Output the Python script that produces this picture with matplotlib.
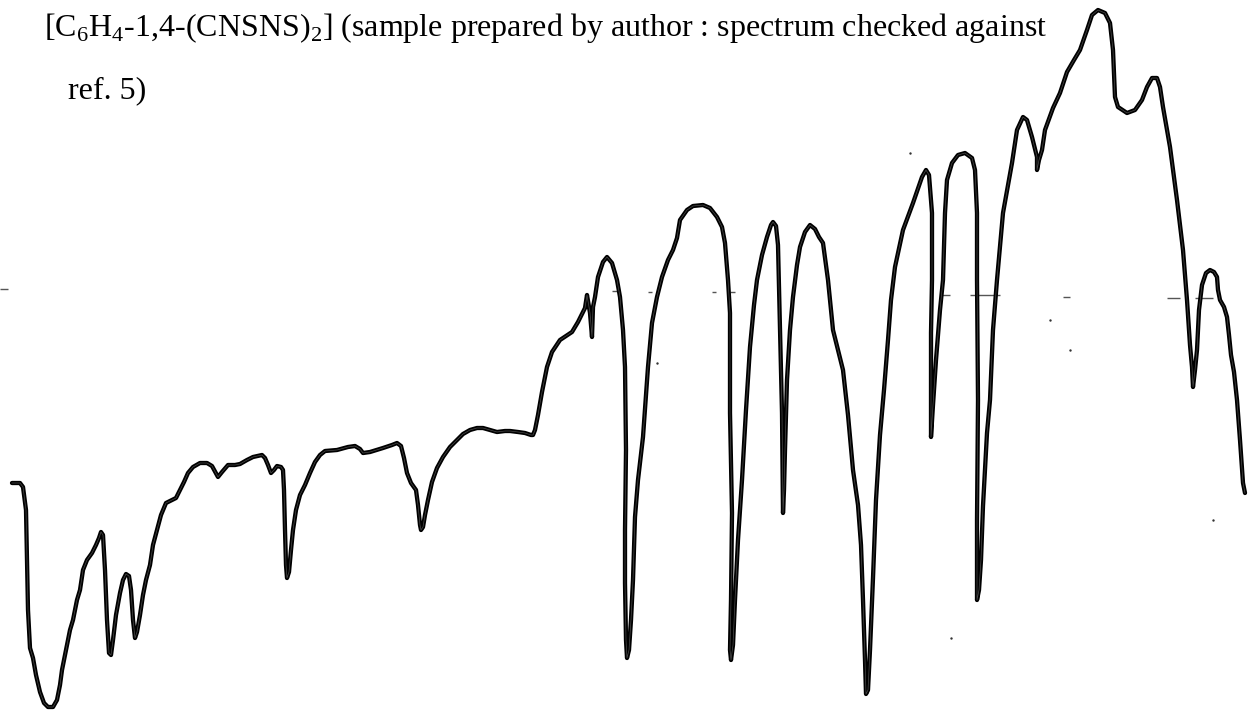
import numpy as np
import matplotlib.pyplot as plt

plt.rcParams['font.family'] = ['Liberation Serif', 'DejaVu Serif']
plt.rcParams['mathtext.fontset'] = 'custom'
plt.rcParams['mathtext.rm'] = 'Liberation Serif'

# trace read along the chart paper (position across, pen deflection down)
wave_pos = [12, 20, 23, 26, 27, 28, 30, 33, 36, 40,
            44, 48, 53, 57, 60, 62, 65, 68, 70, 73,
            77, 80, 83, 87, 92, 96, 99, 101, 103, 105,
            107, 109, 111, 113, 116, 120, 123, 126, 129, 131,
            133, 135, 137, 140, 143, 146, 150, 153, 157, 161,
            166, 172, 176, 180, 184, 188, 193, 200, 207, 212,
            218, 222, 228, 235, 240, 247, 253, 262, 265, 268,
            271, 274, 277, 281, 283, 284, 285, 286, 287, 289,
            291, 293, 296, 300, 305, 310, 315, 320, 325, 337,
            348, 355, 360, 363, 370, 383, 392, 397, 401, 404,
            407, 411, 416, 418, 420, 421, 423, 425, 428, 432,
            437, 443, 450, 457, 463, 470, 477, 483, 490, 497,
            505, 510, 518, 525, 531, 533, 535, 538, 542, 547,
            552, 560, 572, 578, 585, 587, 590, 592, 593, 595,
            598, 603, 607, 612, 617, 620, 623, 625, 626, 625,
            625, 626, 627, 629, 631, 633, 635, 638, 643, 648,
            652, 657, 662, 668, 673, 677, 680, 687, 693, 703,
            710, 717, 722, 725, 728, 730, 730, 732, 731, 730,
            731, 733, 735, 738, 742, 746, 750, 754, 757, 762,
            767, 771, 773, 776, 778, 780, 782, 783, 784, 785,
            787, 790, 793, 797, 800, 805, 810, 815, 819, 823,
            828, 833, 838, 843, 848, 853, 858, 861, 863, 865,
            866, 868, 870, 873, 876, 880, 884, 888, 891, 895,
            903, 913, 922, 926, 929, 932, 932, 931, 931, 933,
            936, 940, 943, 945, 947, 952, 958, 965, 972, 975,
            977, 977, 978, 977, 977, 979, 981, 983, 987, 990,
            993, 997, 1003, 1012, 1017, 1023, 1027, 1032, 1037, 1037,
            1039, 1042, 1045, 1053, 1060, 1067, 1074, 1080, 1087, 1092,
            1098, 1105, 1110, 1113, 1115, 1118, 1127, 1135, 1142, 1147,
            1152, 1157, 1160, 1163, 1170, 1177, 1183, 1187, 1190, 1192,
            1193, 1195, 1197, 1199, 1202, 1206, 1210, 1214, 1217, 1218,
            1220, 1224, 1227, 1229, 1231, 1234, 1237, 1240, 1243, 1245]
trace = [483, 483, 487, 510, 560, 610, 648, 658, 675, 692,
         703, 707, 707, 700, 685, 670, 655, 640, 630, 620,
         600, 590, 570, 560, 553, 545, 538, 532, 535, 570,
         620, 653, 655, 640, 615, 593, 580, 574, 576, 590,
         620, 638, 632, 615, 595, 580, 565, 545, 530, 515,
         503, 500, 498, 490, 482, 473, 467, 463, 463, 466,
         477, 472, 465, 465, 464, 460, 457, 455, 458, 465,
         473, 470, 466, 467, 470, 490, 530, 565, 578, 572,
         550, 530, 510, 495, 485, 473, 462, 455, 451, 450,
         447, 446, 449, 453, 452, 448, 445, 443, 446, 458,
         473, 483, 490, 505, 525, 530, 527, 515, 500, 482,
         468, 457, 447, 440, 434, 430, 428, 428, 430, 432,
         431, 431, 432, 433, 435, 435, 430, 415, 392, 367,
         352, 340, 332, 322, 308, 295, 313, 337, 307, 297,
         277, 262, 257, 263, 280, 297, 330, 367, 450, 530,
         583, 640, 658, 650, 620, 580, 517, 480, 437, 367,
         323, 297, 277, 260, 250, 238, 220, 210, 206, 205,
         208, 217, 227, 243, 280, 313, 413, 513, 600, 650,
         660, 645, 600, 540, 480, 410, 347, 305, 280, 255,
         237, 225, 222, 226, 245, 330, 413, 513, 490, 450,
         380, 330, 297, 265, 247, 232, 225, 229, 237, 243,
         280, 330, 350, 370, 415, 470, 505, 545, 600, 660,
         694, 690, 650, 578, 500, 435, 390, 340, 300, 267,
         230, 203, 177, 170, 175, 213, 280, 333, 437, 405,
         360, 310, 280, 213, 180, 163, 155, 153, 158, 170,
         213, 280, 400, 520, 600, 590, 560, 506, 433, 400,
         330, 280, 213, 163, 130, 117, 120, 137, 157, 170,
         160, 150, 130, 108, 93, 72, 60, 50, 30, 15,
         10, 13, 23, 50, 97, 107, 113, 110, 100, 87,
         78, 78, 87, 107, 147, 200, 250, 300, 345, 367,
         387, 370, 350, 310, 285, 273, 270, 272, 277, 290,
         300, 307, 317, 335, 355, 372, 400, 440, 483, 493]

# faint baseline dashes on the paper
dash_start = [0, 612, 648, 712, 730, 940, 970, 1063, 1167, 1195]
dash_end = [8, 620, 652, 716, 735, 950, 1000, 1070, 1180, 1213]
dash_y = [289, 291, 292, 292, 292, 295, 295, 297, 298, 298]

# specks of dirt
speck_x = [657, 910, 1050, 1070, 951, 1213]
speck_y = [363, 153, 320, 350, 638, 520]

fig = plt.figure(figsize=(12.55, 7.12), dpi=100)
ax = fig.add_axes([0, 0, 1, 1])
ax.set_xlim(0, 1255)
ax.set_ylim(712, 0)
ax.axis('off')

ax.hlines(dash_y, dash_start, dash_end, colors='#555555', linewidth=1.0)
ax.scatter(speck_x, speck_y, s=3, color='#333333', linewidths=0)

ax.plot(wave_pos, trace, color='black', linewidth=3.1, solid_joinstyle='round',
        solid_capstyle='round')
ax.plot(wave_pos, trace, color='white', linewidth=0.5, alpha=0.3)

ax.text(44, 36, r'[C$_\mathregular{6}$H$_\mathregular{4}$-1,4-(CNSNS)$_\mathregular{2}$] '
        '(sample prepared by author : spectrum checked against',
        fontsize=23, va='baseline', ha='left')
ax.text(68, 98, 'ref. 5)', fontsize=23, va='baseline', ha='left')

fig.savefig('out.png', dpi=100)
